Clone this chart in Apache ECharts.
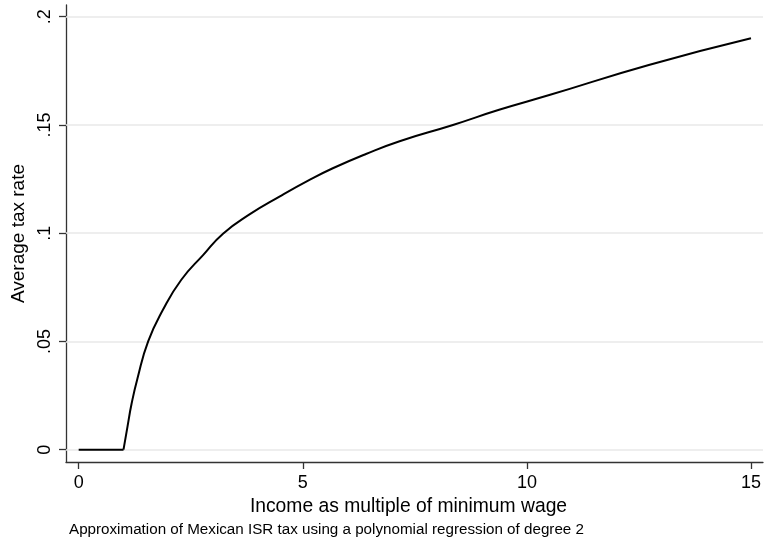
<!DOCTYPE html>
<html>
<head>
<meta charset="utf-8">
<script src="https://cdn.jsdelivr.net/npm/echarts@6/dist/echarts.min.js"></script>
<style>
  html, body { margin: 0; padding: 0; background: #fff; }
  #chart { width: 764px; height: 544px; }
</style>
</head>
<body>
<div id="chart"></div>
<script>
// Income (multiples of minimum wage) and the fitted average ISR tax rate
const income  = [0, 1, 1.09, 1.18, 1.31, 1.55, 1.88, 2.29, 2.78, 3.22, 3.82, 4.48, 5.15, 5.67, 6.41, 7.16, 8.35, 9.38, 10.50, 12.72, 15];
const taxRate = [0, 0, 0.0108, 0.0212, 0.0328, 0.0500, 0.0646, 0.0785, 0.0900, 0.0998, 0.1088, 0.1169, 0.1246, 0.1300, 0.1366, 0.1425, 0.1500, 0.1570, 0.1638, 0.1777, 0.1900];

// Axis ticks and their labels
const xTicks = [0, 5, 10, 15];
const yTicks = [0, 0.05, 0.1, 0.15, 0.2];
const yTickLabels = ['0', '.05', '.1', '.15', '.2'];

const xTitle = 'Income as multiple of minimum wage';
const yTitle = 'Average tax rate';
const note = 'Approximation of Mexican ISR tax using a polynomial regression of degree 2';

const FONT = '"Liberation Sans", Arial, sans-serif';
const points = income.map((x, i) => [x, taxRate[i]]);
// below one minimum wage the rate is zero; the fitted curve starts at x = 1
const kink = income.indexOf(1);
const flatPart = points.slice(0, kink + 1);
const curvePart = points.slice(kink);

const chart = echarts.init(document.getElementById('chart'), null, { renderer: 'canvas' });

const lineSeries = (data, smooth) => ({
  type: 'line',
  data,
  smooth,
  showSymbol: false,
  zlevel: 1,
  lineStyle: { color: '#000', width: 2 }
});

chart.setOption({
  animation: false,
  backgroundColor: '#ffffff',
  grid: { left: 66, right: 0, top: 5, bottom: 82 },
  xAxis: {
    type: 'value',
    min: -0.283,
    max: 15.267,
    name: xTitle,
    nameLocation: 'middle',
    nameGap: 32,
    nameTextStyle: { fontFamily: FONT, fontSize: 19.3, color: '#000', padding: [0, 12, 0, 0] },
    axisLine: { show: true, onZero: false, lineStyle: { color: '#333', width: 1.3 } },
    axisTick: { show: true, customValues: xTicks, length: 7, lineStyle: { color: '#333', width: 1.3 } },
    axisLabel: {
      customValues: xTicks,
      fontFamily: FONT, fontSize: 18, color: '#000', margin: 12,
      formatter: v => String(v)
    },
    splitLine: { show: false }
  },
  yAxis: {
    type: 'value',
    min: -0.00568,
    max: 0.2054,
    name: yTitle,
    nameLocation: 'middle',
    nameGap: 37,
    nameRotate: 90,
    nameTextStyle: { fontFamily: FONT, fontSize: 19, color: '#000' },
    axisLine: { show: true, onZero: false, lineStyle: { color: '#333', width: 1.3 } },
    axisTick: { show: true, customValues: yTicks, length: 7, lineStyle: { color: '#333', width: 1.3 } },
    axisLabel: {
      customValues: yTicks,
      rotate: 90,
      fontFamily: FONT, fontSize: 18, color: '#000', margin: 12,
      formatter: v => {
        const i = yTicks.findIndex(t => Math.abs(t - v) < 1e-9);
        return i >= 0 ? yTickLabels[i] : '';
      }
    },
    splitLine: { show: false }
  },
  series: [
    {
      // horizontal reference lines at each y tick
      type: 'line',
      data: [],
      silent: true,
      markLine: {
        silent: true,
        symbol: ['none', 'none'],
        label: { show: false },
        lineStyle: { color: '#e8e8e8', width: 1.5, type: 'solid' },
        data: yTicks.map(v => ({ yAxis: v }))
      }
    },
    lineSeries(flatPart, false),
    lineSeries(curvePart, 0.5)
  ],
  graphic: [
    {
      type: 'text',
      left: 69,
      top: 522,
      style: { text: note, fontFamily: FONT, fontSize: 15.2, fill: '#000' }
    }
  ]
});
</script>
</body>
</html>
